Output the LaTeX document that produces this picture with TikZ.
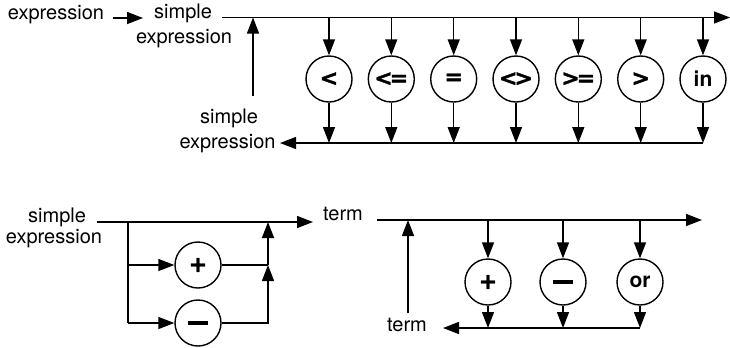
\documentclass[tikz,border=0pt]{standalone}
\usepackage{fontspec}
\setmainfont{TeX Gyre Heros}
\newfontfamily\opsym{DejaVu Sans}[BoldFeatures={FakeBold=1.5}]
\usetikzlibrary{arrows.meta}
\begin{document}
\begin{tikzpicture}[x=1bp,y=-1bp,
  line/.style={line width=1.4bp},
  arr/.style={line, -{Triangle[length=16bp,width=12bp]}},
  lbl/.style={font=\fontsize{20bp}{24bp}\selectfont, inner sep=0pt, anchor=base},
  op/.style={circle, draw, line width=1.4bp, minimum size=46bp, inner sep=0pt,
             font=\fontsize{21bp}{24bp}\selectfont\bfseries},
  sym/.style={op, font=\opsym\bfseries\fontsize{22bp}{24bp}\selectfont}]
\useasboundingbox (0,0) rectangle (730,347);

% ---- expression ----
\node[lbl] (ex) at (56,19.5) {expression};
\coordinate (exr) at (113,18);
\coordinate (sin) at (143,18);
\draw[arr] (exr) -- (sin);
\node[lbl] (se1) at (183,18.5) {simple};
\node[lbl] (se2) at (184,43) {expression};
\coordinate (t0) at (222,17.5);
\coordinate (tend) at (730,17.5);
\draw[arr] (t0) -- (tend);
\coordinate (bR) at (703,143);
\coordinate (bL) at (280,143);
\draw[arr] (bR) -- (bL);
% relational operators
\node[sym] (r1) at (329,79) {<};
\node[sym] (r2) at (391.3,79) {<\kern-3bp=};
\node[sym] (r3) at (453.7,79) {=};
\node[sym] (r4) at (516,79) {<\kern-3bp>};
\node[sym] (r5) at (578.3,79) {>\kern-3bp=};
\node[sym] (r6) at (640.7,79) {>};
\node[op]  (r7) at (703,79) {in};
\foreach \i in {1,...,7}{
  \draw[arr] (r\i |- t0) -- (r\i.north);
  \draw[arr] (r\i.south) -- (r\i |- bR);
}
\node[lbl] (ls1) at (229,123) {simple};
\node[lbl] (ls2) at (227.5,148) {expression};
\coordinate (up0) at (253,96);
\draw[arr] (up0) -- (up0 |- t0);

% ---- simple expression ----
\node[lbl] (bs1) at (57,222) {simple};
\node[lbl] (bs2) at (54,243) {expression};
\coordinate (m0) at (97,222);
\coordinate (m1) at (313,222);
\draw[arr] (m0) -- (m1);
\coordinate (fork) at (128,222);
\node[sym] (plus) at (198,265) {+};
\node[op] (minus) at (198,323) {\rule[-1.5bp]{20bp}{3.5bp}};
\coordinate (join) at (268,265);
\draw[line] (fork) -- (fork |- minus);
\draw[arr] (fork |- plus) -- (plus.west);
\draw[arr] (fork |- minus) -- (minus.west);
\draw[line] (plus.east) -- (join);
\draw[arr] (minus.east) -| (join);
\draw[arr] (join) -- (join |- m0);

% ---- term ----
\node[lbl] (tm1) at (343,220) {term};
\coordinate (u0) at (377,220);
\coordinate (u1) at (702,220);
\draw[arr] (u0) -- (u1);
\coordinate (w0) at (640,328);
\coordinate (w1) at (443,328);
\draw[arr] (w0) -- (w1);
\node[sym] (q1) at (488,282) {+};
\node[op] (q2) at (563,282) {\rule[-1.5bp]{20bp}{3.5bp}};
\node[op] (q3) at (640,282) {or};
\foreach \q in {q1,q2,q3}{
  \draw[arr] (\q |- u0) -- (\q.north);
  \draw[arr] (\q.south) -- (\q |- w0);
}
\node[lbl] (tm2) at (407,331) {term};
\coordinate (v0) at (408,313);
\draw[arr] (v0) -- (v0 |- u0);
\end{tikzpicture}
\end{document}
